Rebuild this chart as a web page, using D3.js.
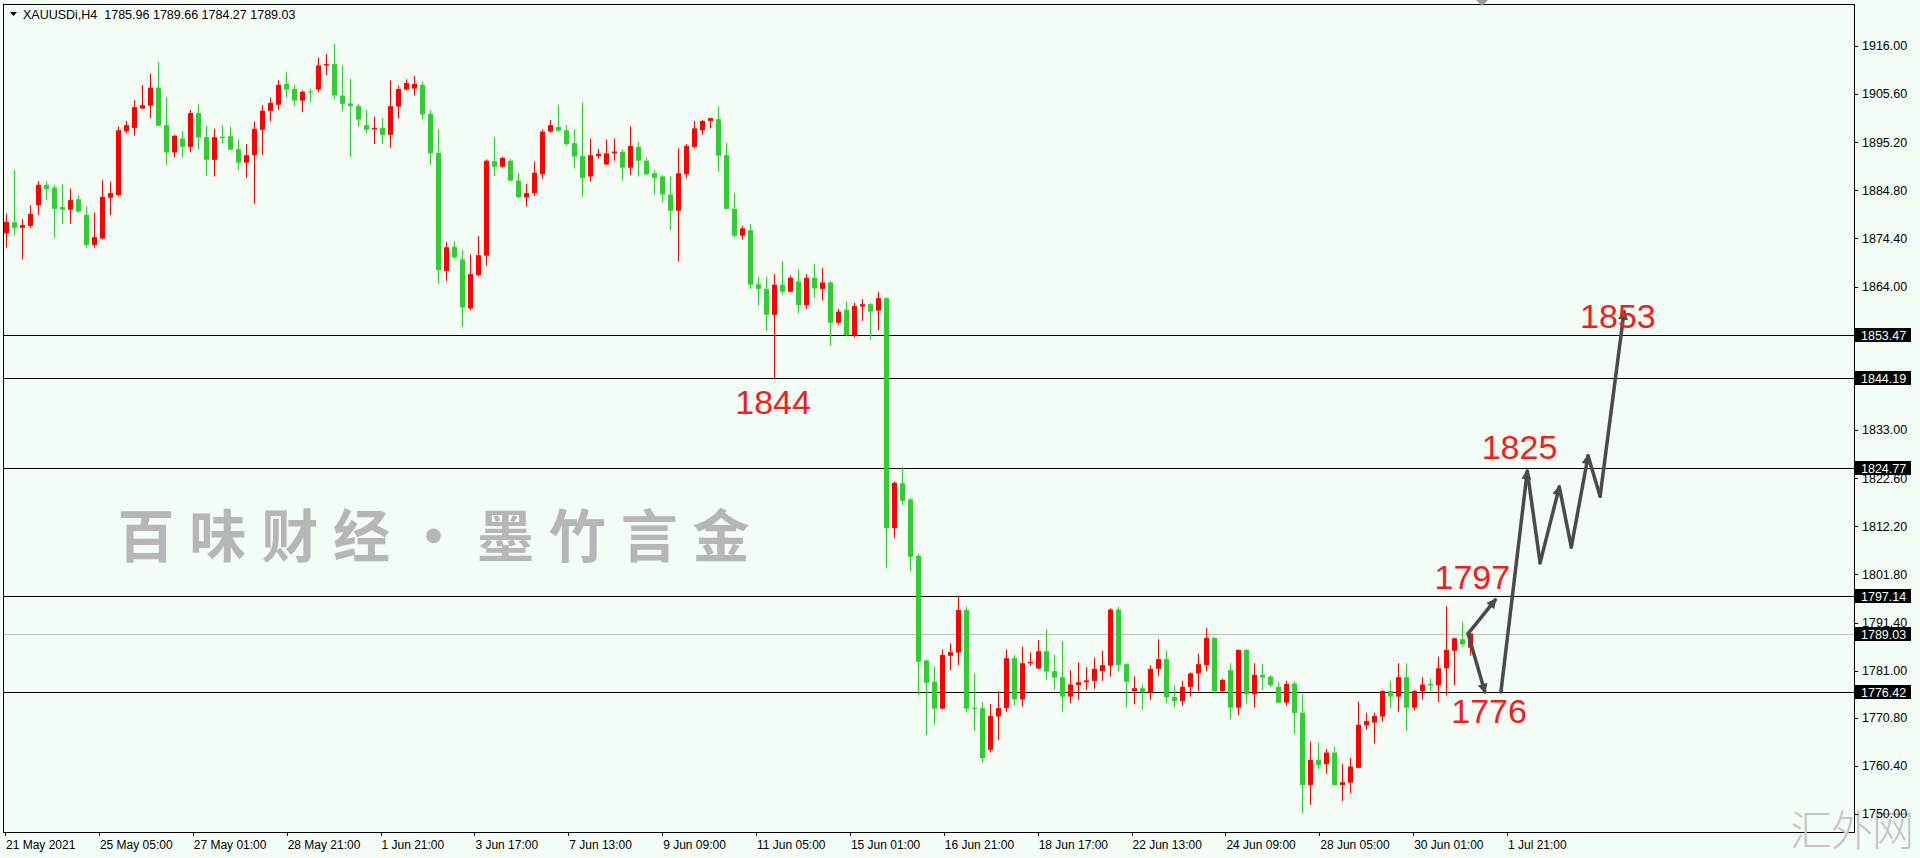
<!DOCTYPE html>
<html><head><meta charset="utf-8">
<script src="https://cdn.jsdelivr.net/npm/d3@7"></script>
<style>
html,body{margin:0;padding:0;background:#f4fcf6;}
svg{display:block;}
</style></head><body>
<svg id="chart" width="1920" height="858"></svg>
<script>
// ---- DATA ----
const opens=[1875.5,1877.9,1876.7,1877.1,1881.6,1886.0,1885.4,1881.2,1880.6,1882.9,1879.5,1873.0,1874.4,1883.2,1883.8,1897.6,1898.3,1902.5,1903.1,1907.0,1898.9,1893.0,1896.0,1894.2,1901.5,1896.3,1891.4,
1896.4,1896.5,1893.7,1890.8,1892.4,1897.9,1902.0,1903.3,1907.8,1906.7,1904.2,1906.2,1906.6,1911.8,1912.1,1905.3,1903.6,1903.0,1898.9,1898.0,1898.3,1896.8,1902.9,1906.6,1906.8,1907.6,
1901.3,1892.9,1867.4,1872.6,1869.9,1859.3,1866.5,1870.7,1891.1,1889.9,1891.2,1886.9,1883.3,1884.2,1888.3,1897.5,1898.5,1897.8,1895.0,1892.2,1887.8,1892.2,1890.4,1892.8,1893.1,1889.7,
1894.2,1891.2,1888.5,1887.8,1883.9,1880.4,1888.3,1894.2,1897.8,1899.8,1900.2,1892.4,1880.8,1875.0,1876.2,1864.5,1863.5,1857.9,1864.4,1862.9,1865.1,1860.0,1865.9,1863.5,1864.9,1856.2,
1859.0,1853.5,1859.7,1860.2,1858.8,1861.5,1811.8,1821.5,1818.0,1805.8,1783.2,1778.6,1772.8,1784.2,1784.9,1794.1,1773.0,1772.9,1763.9,1771.1,1772.9,1783.7,1774.8,1782.6,1781.5,1785.2,1780.9,
1779.6,1775.4,1777.9,1778.5,1778.8,1780.9,1782.1,1794.2,1782.4,1776.6,1777.2,1776.3,1781.4,1783.5,1775.3,1774.4,1777.5,1780.4,1782.2,1788.1,1776.6,1781.1,1773.0,1785.5,1775.9,1780.1,
1779.7,1777.5,1774.1,1778.2,1771.9,1756.3,1761.7,1760.8,1763.3,1756.3,1756.8,1760.0,1769.2,1769.8,1771.1,1776.6,1775.4,1779.6,1773.0,1776.6,1778.1,1777.8,1781.5,1785.3,1787.8,1785.96];
const highs=[1879.8,1889.2,1878.6,1881.6,1886.8,1886.7,1886.0,1886.2,1885.2,1883.8,1881.4,1880.0,1887.0,1886.7,1898.6,1899.8,1904.3,1907.6,1910.0,1912.6,1904.9,1896.8,1897.6,1902.2,1903.4,1898.7,1898.1,
1898.8,1898.6,1895.8,1894.8,1899.7,1903.2,1904.9,1908.6,1910.4,1907.6,1906.4,1906.8,1913.5,1914.3,1916.4,1911.8,1908.9,1903.5,1902.2,1900.7,1900.4,1908.6,1907.4,1908.8,1909.5,1908.3,
1902.2,1898.0,1873.6,1873.8,1871.9,1871.0,1874.9,1891.5,1896.2,1892.1,1891.6,1888.6,1886.2,1891.0,1898.0,1900.0,1903.3,1898.9,1898.0,1903.8,1896.0,1893.7,1895.8,1896.0,1893.7,1898.7,
1895.3,1891.9,1889.2,1888.1,1887.9,1893.9,1894.8,1899.8,1900.0,1900.5,1902.9,1895.1,1884.2,1877.1,1877.5,1866.2,1866.2,1866.7,1869.5,1866.4,1867.7,1866.7,1868.9,1868.0,1865.2,1859.2,
1860.8,1860.5,1861.3,1860.5,1862.9,1861.7,1821.9,1824.9,1818.3,1806.2,1783.4,1781.9,1785.6,1786.9,1797.1,1794.8,1780.4,1774.3,1773.8,1776.5,1785.6,1784.4,1786.2,1784.9,1787.6,1789.9,1784.4,
1787.4,1781.1,1782.8,1781.8,1783.8,1785.3,1794.5,1794.8,1782.6,1779.8,1778.0,1782.2,1787.8,1785.3,1777.8,1778.8,1780.6,1784.7,1790.2,1788.2,1779.3,1782.6,1785.5,1785.6,1782.6,1782.4,
1780.1,1778.6,1778.8,1778.6,1775.9,1765.7,1765.5,1764.1,1764.6,1760.8,1762.2,1774.3,1771.9,1771.9,1776.8,1778.8,1782.6,1782.6,1776.8,1779.6,1779.3,1784.0,1795.0,1788.1,1791.6,1789.66];
const lows=[1872.4,1875.0,1869.9,1876.7,1879.5,1882.7,1874.6,1877.6,1877.6,1880.0,1872.4,1872.4,1874.2,1879.5,1883.5,1897.1,1896.6,1902.4,1900.4,1898.6,1890.3,1891.9,1891.9,1893.0,1893.7,1888.0,1887.8,
1895.0,1893.5,1889.2,1887.5,1881.9,1892.5,1899.7,1902.2,1904.8,1903.0,1901.7,1903.9,1906.0,1909.7,1904.4,1901.9,1892.0,1898.6,1897.2,1894.8,1894.8,1894.0,1900.3,1906.4,1905.3,1900.1,
1890.3,1864.6,1865.2,1870.0,1855.3,1858.9,1866.2,1868.5,1887.9,1889.7,1886.7,1883.1,1881.3,1883.6,1887.3,1897.3,1897.5,1894.4,1889.5,1883.4,1886.7,1891.7,1890.3,1891.2,1886.9,1888.1,
1887.8,1888.1,1883.9,1882.2,1876.2,1869.4,1887.4,1893.9,1896.8,1898.2,1888.8,1880.6,1874.6,1874.2,1863.5,1859.9,1854.4,1844.2,1862.3,1862.8,1858.2,1859.2,1861.6,1861.0,1851.2,1855.8,
1853.2,1853.0,1856.6,1852.5,1854.6,1803.1,1809.6,1816.8,1802.4,1775.7,1767.1,1769.3,1772.6,1781.1,1782.2,1772.1,1768.0,1761.1,1763.3,1766.0,1772.1,1773.4,1773.2,1782.0,1781.3,1779.0,1776.8,
1772.1,1773.9,1774.7,1776.8,1777.0,1778.8,1779.7,1780.8,1773.0,1773.7,1772.5,1774.7,1779.9,1773.9,1773.1,1773.4,1775.4,1776.6,1780.9,1776.1,1776.3,1770.5,1771.4,1773.9,1773.0,1776.8,
1777.5,1773.9,1773.4,1767.3,1750.2,1752.0,1759.7,1758.7,1756.1,1752.8,1754.5,1759.9,1768.2,1765.2,1770.0,1772.9,1772.1,1768.0,1772.4,1774.7,1776.6,1774.2,1775.6,1777.8,1786.2,1784.27];
const closes=[1878.0,1876.7,1877.3,1879.7,1886.0,1885.1,1880.8,1880.6,1882.7,1880.2,1873.0,1874.7,1883.4,1884.2,1897.8,1898.9,1902.8,1903.2,1907.0,1898.8,1893.0,1896.6,1894.2,1901.5,1896.2,1891.4,1896.3,
1896.1,1893.6,1890.8,1892.4,1898.1,1902.0,1903.7,1907.6,1906.6,1904.2,1906.1,1906.1,1911.8,1912.1,1905.3,1903.5,1903.0,1900.1,1897.9,1898.3,1896.8,1903.0,1906.7,1908.0,1907.8,1901.2,
1892.8,1867.6,1872.5,1870.3,1859.5,1866.7,1870.8,1891.2,1889.9,1891.8,1886.9,1883.3,1884.2,1888.6,1897.5,1898.9,1897.7,1894.8,1892.1,1887.5,1892.4,1892.7,1892.8,1893.2,1889.7,1894.4,
1891.2,1888.3,1887.5,1883.9,1880.4,1888.5,1894.4,1898.2,1899.8,1900.4,1892.3,1880.8,1875.0,1876.6,1864.4,1863.5,1857.9,1864.4,1862.9,1865.9,1860.0,1865.9,1863.6,1864.9,1856.2,1858.6,
1853.5,1859.8,1860.2,1858.6,1861.5,1811.8,1821.6,1817.7,1805.6,1782.9,1778.4,1772.8,1784.4,1785.0,1794.1,1772.8,1772.8,1762.1,1771.2,1772.9,1783.7,1774.8,1782.6,1782.9,1785.2,1780.8,1779.5,
1775.4,1778.0,1778.5,1778.9,1781.4,1782.2,1794.2,1782.2,1778.6,1777.2,1776.3,1781.4,1783.5,1775.2,1774.4,1777.5,1780.4,1782.4,1788.1,1776.6,1779.0,1773.0,1785.5,1775.9,1780.1,1779.5,
1777.9,1774.1,1778.1,1771.8,1756.3,1761.7,1760.6,1763.3,1756.3,1756.9,1760.3,1769.3,1770.1,1771.2,1776.6,1775.4,1779.6,1773.0,1776.6,1778.0,1777.8,1781.5,1785.5,1788.0,1786.7,1789.03];

const priceTicks=[1916.00,1905.60,1895.20,1884.80,1874.40,1864.00,1833.00,1822.60,1812.20,1801.80,1791.40,1781.00,1770.80,1760.40,1750.00];
const levels=[1853.47,1844.19,1824.77,1797.14,1776.42];
const lastPrice=1789.03;
const timeLabels=["21 May 2021","25 May 05:00","27 May 01:00","28 May 21:00","1 Jun 21:00","3 Jun 17:00","7 Jun 13:00","9 Jun 09:00","11 Jun 05:00","15 Jun 01:00","16 Jun 21:00","18 Jun 17:00","22 Jun 13:00","24 Jun 09:00","28 Jun 05:00","30 Jun 01:00","1 Jul 21:00"];
const header="XAUUSDi,H4  1785.96 1789.66 1784.27 1789.03";
// annotations: [text, bar index, price at baseline]
const noteTexts=["1853","1844","1825","1797","1776"];
const noteIdx=[196.8,91.2,184.5,178.6,180.7];
const notePrice=[1855.0,1836.5,1826.7,1798.6,1769.7];
// forecast arrows: each [bar index, price] start -> end
const arrowFrom=[[182.8,1789.0],[182.8,1789.0],[186.9,1776.4],[190.2,1824.1],[191.8,1804.3],[194.2,1820.7],[195.7,1807.7],[197.8,1827.4],[199.3,1818.7]];
const arrowTo=  [[186.2,1796.3],[184.9,1776.4],[190.2,1824.1],[191.8,1804.3],[194.2,1820.7],[195.7,1807.7],[197.8,1827.4],[199.3,1818.7],[202.3,1858.6]];
const watermark=["百","味","财","经","·","墨","竹","言","金"];
const siteMark="汇外网";

// ---- LAYOUT ----
const W=1920,H=858;
const plot={l:3,t:4,r:1854,b:832};
const svg=d3.select("#chart");
const bg="#f4fcf6";
svg.append("rect").attr("width",W).attr("height",H).attr("fill",bg);

const n=closes.length;
const x=d3.scaleLinear().domain([0,n-1]).range([5.7,5.7+8*(n-1)]);
const y=d3.scaleLinear().domain([1750,1916]).range([814.1,46]);
const xLab=d3.scalePoint().domain(timeLabels).range([5,1507]);

svg.append("defs").append("clipPath").attr("id","clip")
  .append("rect").attr("x",plot.l).attr("y",plot.t).attr("width",plot.r-plot.l).attr("height",plot.b-plot.t);

const g=svg.append("g").attr("clip-path","url(#clip)");

// watermark
const wm=d3.scaleBand().domain(d3.range(watermark.length)).range([110,757]);
g.append("g").selectAll("text").data(watermark).join("text")
  .attr("x",(d,i)=>wm(i)+wm.bandwidth()/2).attr("y",557)
  .attr("text-anchor","middle")
  .attr("font-family","'Noto Sans CJK SC'").attr("font-weight",700)
  .attr("font-size",57).attr("fill","#ababab").attr("opacity",0.85)
  .text(d=>d);

// level lines
g.append("g").selectAll("line").data(levels).join("line")
  .attr("x1",plot.l).attr("x2",plot.r)
  .attr("y1",d=>Math.round(y(d))+0.5).attr("y2",d=>Math.round(y(d))+0.5)
  .attr("stroke","#000").attr("stroke-width",1);
g.append("line").attr("x1",plot.l).attr("x2",plot.r)
  .attr("y1",Math.round(y(lastPrice))+0.5).attr("y2",Math.round(y(lastPrice))+0.5)
  .attr("stroke","#c0c0c0").attr("stroke-width",1);

// candles
const idx=d3.range(n);
const col=i=>closes[i]>=opens[i]?"#ff0000":"#32cd32";
const cg=g.append("g");
cg.selectAll("line").data(idx).join("line")
  .attr("x1",i=>Math.round(x(i))+0.5).attr("x2",i=>Math.round(x(i))+0.5)
  .attr("y1",i=>y(highs[i])).attr("y2",i=>y(lows[i]))
  .attr("stroke",col).attr("stroke-width",1);
cg.selectAll("rect").data(idx).join("rect")
  .attr("x",i=>Math.round(x(i))-2).attr("width",5)
  .attr("y",i=>y(Math.max(opens[i],closes[i])))
  .attr("height",i=>Math.max(1.2,Math.abs(y(opens[i])-y(closes[i]))))
  .attr("fill",col);

// arrows
const defs=svg.select("defs");
defs.append("marker").attr("id","ah").attr("viewBox","0 0 10 10").attr("refX",8).attr("refY",5)
  .attr("markerWidth",12).attr("markerHeight",10).attr("markerUnits","userSpaceOnUse").attr("orient","auto")
  .append("path").attr("d","M0,0 L10,5 L0,10 z").attr("fill","#4a4a4a");
g.append("g").selectAll("line").data(d3.range(arrowFrom.length)).join("line")
  .attr("x1",i=>x(arrowFrom[i][0])).attr("y1",i=>y(arrowFrom[i][1]))
  .attr("x2",i=>x(arrowTo[i][0])).attr("y2",i=>y(arrowTo[i][1]))
  .attr("stroke","#4a4a4a").attr("stroke-width",3.5).attr("stroke-linecap","round")
  .attr("marker-end",i=>(arrowTo[i][1]>arrowFrom[i][1]||i===1)?"url(#ah)":null);

// red notes
g.append("g").selectAll("text").data(noteTexts).join("text")
  .attr("x",(d,i)=>x(noteIdx[i])).attr("y",(d,i)=>y(notePrice[i]))
  .attr("font-family","'Liberation Sans',Arial").attr("font-size",34)
  .attr("fill","#f01e1e").text(d=>d);

// frame
svg.append("rect").attr("x",plot.l+0.5).attr("y",plot.t+0.5)
  .attr("width",plot.r-plot.l).attr("height",plot.b-plot.t)
  .attr("fill","none").attr("stroke","#000").attr("stroke-width",1);

// site mark (behind axis labels, as in the reference)
svg.append("text").attr("x",1790).attr("y",846).attr("font-family","'Noto Sans CJK SC'")
  .attr("font-weight",300).attr("font-size",42).attr("fill","#c4c4c4").attr("letter-spacing",-1).text(siteMark);

// price axis
const pa=svg.append("g");
pa.selectAll("line").data(priceTicks).join("line")
  .attr("x1",plot.r).attr("x2",plot.r+4)
  .attr("y1",d=>Math.round(y(d))+0.5).attr("y2",d=>Math.round(y(d))+0.5).attr("stroke","#000");
pa.selectAll("text").data(priceTicks).join("text")
  .attr("x",plot.r+8).attr("y",d=>y(d)).attr("dy","0.35em")
  .attr("font-family","'Liberation Sans',Arial").attr("font-size",12.5).attr("fill","#000")
  .text(d=>d.toFixed(2));
const boxes=levels.concat([lastPrice]);
const bx=pa.append("g").selectAll("g").data(boxes).join("g")
  .attr("transform",d=>`translate(${plot.r+1},${Math.round(y(d))})`);
bx.append("rect").attr("x",0).attr("y",-7).attr("width",56).attr("height",14).attr("fill","#000");
bx.append("text").attr("x",6).attr("y",0).attr("dy","0.36em")
  .attr("font-family","'Liberation Sans',Arial").attr("font-size",12.5).attr("fill","#fff")
  .text(d=>d.toFixed(2));

// time axis
const ta=svg.append("g");
ta.selectAll("line").data(timeLabels).join("line")
  .attr("x1",d=>Math.round(xLab(d))+0.5).attr("x2",d=>Math.round(xLab(d))+0.5)
  .attr("y1",plot.b).attr("y2",plot.b+4).attr("stroke","#000");
ta.selectAll("text").data(timeLabels).join("text")
  .attr("x",d=>xLab(d)+1).attr("y",849)
  .attr("font-family","'Liberation Sans',Arial").attr("font-size",12).attr("fill","#000")
  .text(d=>d);

// header
svg.append("path").attr("d","M10,12 L17,12 L13.5,16 z").attr("fill","#000");
svg.append("text").attr("x",23).attr("y",19).attr("font-family","'Liberation Sans',Arial")
  .attr("font-size",12.5).attr("fill","#000").style("white-space","pre").text(header);
// shift marker
svg.append("path").attr("d","M1476,0 L1488,0 L1482,6 z").attr("fill","#9a9a9a");
</script>
</body></html>
